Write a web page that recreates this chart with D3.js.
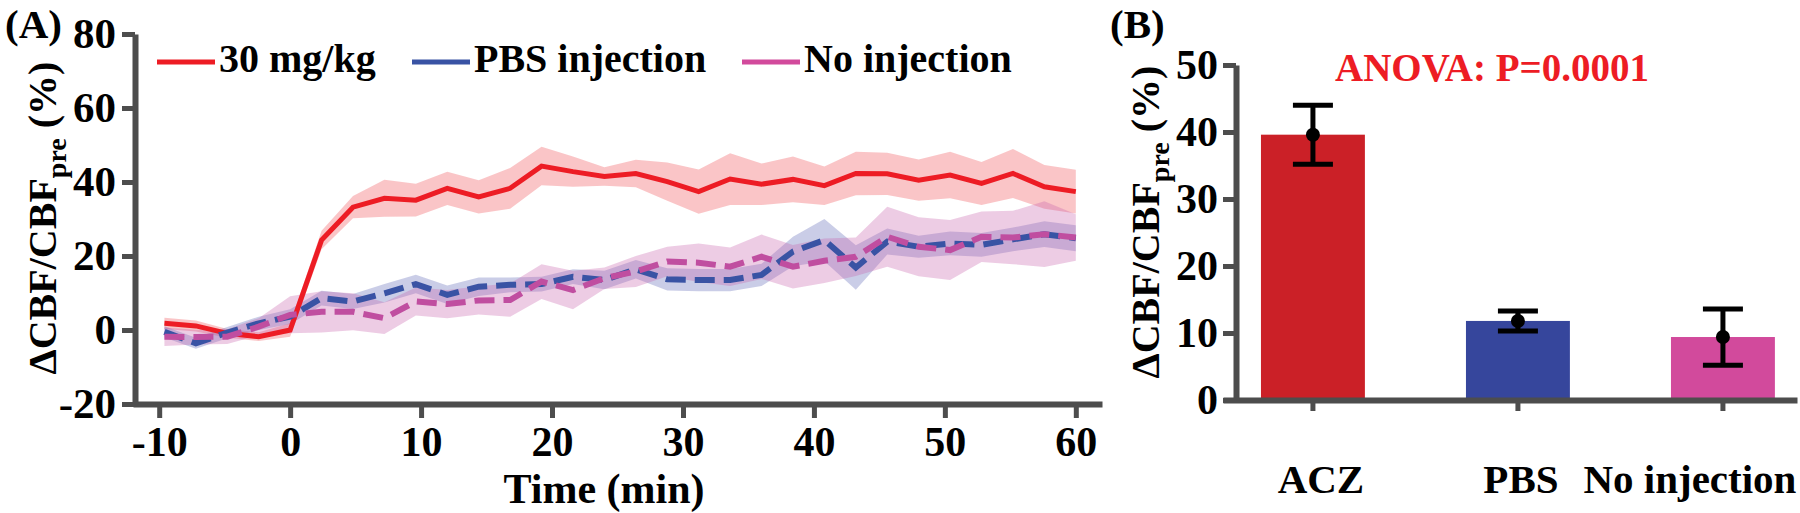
<!DOCTYPE html>
<html>
<head>
<meta charset="utf-8">
<script src="https://cdn.jsdelivr.net/npm/d3@7"></script>
<style>
  body { margin: 0; background: #fff; }
  svg text { font-family: "Liberation Serif", Tinos, "Times New Roman", Times, "DejaVu Serif", serif !important; font-weight: bold; }
</style>
</head>
<body>
<div id="chart"></div>
<script>
// panel A data: time course (mean and sem band)
const timeMin = [-9.6, -7.2, -4.8, -2.4, 0, 2.4, 4.8, 7.2, 9.6, 12, 14.4, 16.8, 19.2, 21.6, 24,
  26.4, 28.8, 31.2, 33.6, 36, 38.4, 40.8, 43.2, 45.6, 48, 50.4, 52.8, 55.2, 57.6, 60];
const aczMean = [1.8, 1.1, -0.9, -1.8, 0.0, 24.3, 33.2, 35.6, 35.1, 38.3, 36.0, 38.3, 44.3, 42.8, 41.5,
  42.3, 40.1, 37.4, 40.8, 39.4, 40.7, 39.0, 42.3, 42.2, 40.5, 41.9, 39.6, 42.3, 38.7, 37.4];
const aczErr = [1.5, 1.5, 1.2, 1.2, 1.8, 2.5, 3.0, 5.0, 4.4, 4.5, 4.5, 5.5, 5.2, 4.1, 2.5,
  3.7, 5.2, 6.0, 7.0, 5.6, 6.2, 5.2, 5.9, 5.7, 5.6, 6.3, 5.8, 6.6, 5.9, 5.9];
const pbsMean = [-0.5, -3.6, -0.7, 1.8, 3.6, 8.6, 7.7, 9.9, 12.4, 9.5, 11.7, 12.2, 12.4, 14.4, 13.5,
  16.4, 13.7, 13.5, 13.5, 14.9, 21.2, 24.3, 16.9, 23.9, 22.5, 23.4, 23.0, 24.5, 25.9, 24.8];
const pbsErr = [1.5, 1.5, 1.5, 1.8, 2, 2, 2, 2.5, 2.5, 2.5, 2.5, 2, 2, 2, 2.5,
  2.5, 3, 3, 3, 3, 4, 5.7, 6, 3.5, 3, 3.2, 3.2, 3.2, 3.5, 3.5];
const noInjMean = [-1.8, -1.9, -1.8, 0.9, 4.1, 4.9, 4.9, 3.2, 7.7, 7.0, 8.0, 8.1, 13.1, 10.8, 14.0,
  15.8, 18.5, 18.2, 17.1, 19.8, 17.1, 18.7, 19.8, 25.2, 22.5, 21.6, 25.2, 25.0, 25.9, 25.0];
const noInjErr = [2.5, 2, 2, 2.3, 5, 5.6, 5, 4.3, 3.8, 3.8, 3.8, 4.5, 4.7, 5.2, 2.9,
  4.2, 4, 5.2, 5.2, 6, 5.9, 6, 5.2, 8.1, 8, 8.1, 6.8, 7.2, 8.9, 6.3];
const legendNames = ["30 mg/kg", "PBS injection", "No injection"];
const xTicksA = [-10, 0, 10, 20, 30, 40, 50, 60];
const yTicksA = [-20, 0, 20, 40, 60, 80];

// panel B data: group averages
const groups = ["ACZ", "PBS", "No injection"];
const groupMean = [39.6, 11.8, 9.4];
const groupErr = [4.4, 1.5, 4.2];
const yTicksB = [0, 10, 20, 30, 40, 50];
const anovaText = "ANOVA: P=0.0001";

const axisColor = "#4d4d4d";
const fontFam = "'Liberation Serif', Tinos, 'Times New Roman', Times, 'DejaVu Serif', serif";
const seriesColors = ["#ed1c24", "#3953a4", "#c04ea0"];
const legendColors = ["#ed1c24", "#3953a4", "#d24a9c"];
const bandColors = ["#ee4a50", "#5b63b4", "#c860ac"];
const barColors = ["#cb2027", "#36469c", "#d24a9c"];

const svg = d3.select("#chart").append("svg")
  .attr("width", 1800)
  .attr("height", 513)
  .attr("font-family", fontFam);

// ---------- panel A ----------
const xA = d3.scaleLinear().domain([-12, 62]).range([133, 1102]);
const yA = d3.scaleLinear().domain([-20, 80]).range([404, 34]);

const series = [
  {mean: aczMean, err: aczErr, dash: null, width: 5},
  {mean: pbsMean, err: pbsErr, dash: "20,9", width: 6},
  {mean: noInjMean, err: noInjErr, dash: "20,9", width: 6}
];

const area = d3.area()
  .x(d => xA(d.t))
  .y0(d => yA(d.m - d.e))
  .y1(d => yA(d.m + d.e));
const line = d3.line()
  .x(d => xA(d.t))
  .y(d => yA(d.m));

const rows = series.map(s => timeMin.map((t, i) => ({t: t, m: s.mean[i], e: s.err[i]})));

rows.forEach((r, i) => {
  svg.append("path")
    .datum(r)
    .attr("d", area)
    .attr("fill", bandColors[i])
    .attr("fill-opacity", 0.32);
});
rows.forEach((r, i) => {
  svg.append("path")
    .datum(r)
    .attr("d", line)
    .attr("fill", "none")
    .attr("stroke", seriesColors[i])
    .attr("stroke-width", series[i].width)
    .attr("stroke-dasharray", series[i].dash);
});

// axes A
const xAxisA = d3.axisBottom(xA).tickValues(xTicksA).tickFormat(d => String(d))
  .tickSize(14).tickSizeOuter(0).tickPadding(8);
const yAxisA = d3.axisLeft(yA).tickValues(yTicksA).tickFormat(d => String(d))
  .tickSize(13).tickSizeOuter(0).tickPadding(6);

const gxA = svg.append("g").attr("transform", "translate(0,404)").call(xAxisA);
const gyA = svg.append("g").attr("transform", "translate(135,0)").call(yAxisA);

function styleAxis(g, size) {
  g.attr("font-family", fontFam);
  g.select(".domain").attr("stroke", axisColor).attr("stroke-width", 6);
  g.selectAll(".tick line").attr("stroke", axisColor).attr("stroke-width", 5);
  g.selectAll(".tick text").attr("fill", "#000").attr("font-size", size).attr("font-weight", "bold");
}
styleAxis(gxA, 42);
styleAxis(gyA, 43);

svg.append("text")
  .attr("x", 604)
  .attr("y", 503)
  .attr("text-anchor", "middle")
  .attr("font-size", 42)
  .text("Time (min)");

function yLabel(x, y) {
  const t = svg.append("text")
    .attr("transform", `translate(${x},${y}) rotate(-90)`)
    .attr("text-anchor", "middle")
    .attr("font-size", 40);
  t.append("tspan").text("\u0394CBF/CBF");
  t.append("tspan").attr("font-size", 28).attr("dy", 10).text("pre");
  t.append("tspan").attr("dy", -10).text(" (%)");
}
yLabel(56, 218);

svg.append("text").attr("x", 5).attr("y", 38).attr("font-size", 41).text("(A)");

// legend
const legendX = [157, 412, 742];
legendNames.forEach((name, i) => {
  svg.append("line")
    .attr("x1", legendX[i]).attr("x2", legendX[i] + 58)
    .attr("y1", 62).attr("y2", 62)
    .attr("stroke", legendColors[i])
    .attr("stroke-width", 5);
  svg.append("text")
    .attr("x", legendX[i] + 62)
    .attr("y", 72)
    .attr("font-size", 40)
    .text(name);
});

// ---------- panel B ----------
const xB = d3.scaleBand().domain(groups).range([1223, 1797])
  .paddingInner(0.493).paddingOuter(0.1465).align(0.632);
const yB = d3.scaleLinear().domain([0, 50]).range([400, 65]);

svg.selectAll(".bar")
  .data(groups)
  .enter().append("rect")
  .attr("class", "bar")
  .attr("x", d => xB(d))
  .attr("width", xB.bandwidth())
  .attr("y", (d, i) => yB(groupMean[i]))
  .attr("height", (d, i) => yB(0) - yB(groupMean[i]))
  .attr("fill", (d, i) => barColors[i]);

const xAxisB = d3.axisBottom(xB).tickSize(11).tickSizeOuter(0).tickPadding(53);
const yAxisB = d3.axisLeft(yB).tickValues(yTicksB).tickFormat(d => String(d))
  .tickSize(13).tickSizeOuter(0).tickPadding(5);

const gxB = svg.append("g").attr("transform", "translate(0,400)").call(xAxisB);
const gyB = svg.append("g").attr("transform", "translate(1236,0)").call(yAxisB);
styleAxis(gxB, 41);
styleAxis(gyB, 42);
// label offsets seen in the reference (last label sits left of its tick)
const labelShift = [8, 3, -33];
gxB.selectAll(".tick text").attr("dx", (d, i) => labelShift[i]);

// error bars
groups.forEach((g, i) => {
  const cx = xB(g) + xB.bandwidth() / 2;
  const top = yB(groupMean[i] + groupErr[i]);
  const bot = yB(groupMean[i] - groupErr[i]);
  const eb = svg.append("g").attr("stroke", "#000").attr("stroke-width", 5);
  eb.append("line").attr("x1", cx).attr("x2", cx).attr("y1", top).attr("y2", bot);
  eb.append("line").attr("x1", cx - 20).attr("x2", cx + 20).attr("y1", top).attr("y2", top);
  eb.append("line").attr("x1", cx - 20).attr("x2", cx + 20).attr("y1", bot).attr("y2", bot);
  svg.append("circle").attr("cx", cx).attr("cy", yB(groupMean[i])).attr("r", 7).attr("fill", "#000");
});

svg.append("text")
  .attr("x", 1492)
  .attr("y", 81)
  .attr("text-anchor", "middle")
  .attr("font-size", 39)
  .attr("fill", "#ed1c24")
  .text(anovaText);

yLabel(1159, 222);
svg.append("text").attr("x", 1110).attr("y", 38).attr("font-size", 41).text("(B)");
</script>
</body>
</html>
